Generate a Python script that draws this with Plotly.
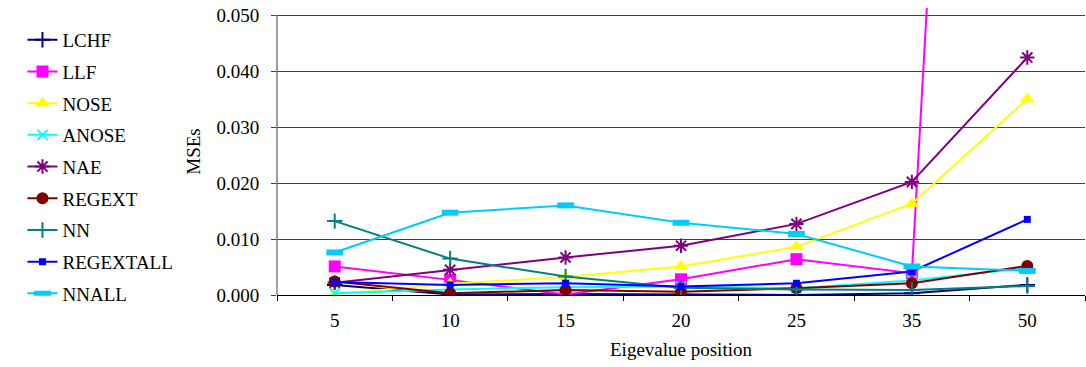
import plotly.graph_objects as go

categories = ["5", "10", "15", "20", "25", "35", "50"]

LCHF = [0.0018, 0.0001, 0.0002, 0.0001, 0.0000, 0.0003, 0.0018]
LLF = [0.0051, 0.0027, 0.0001, 0.0028, 0.0064, 0.0039, 0.37]
NOSE = [0.0002, 0.0020, 0.0032, 0.0051, 0.0086, 0.0163, 0.0350]
ANOSE = [0.0003, 0.0010, 0.0014, 0.0015, 0.0012, 0.0026, 0.0048]
NAE = [0.0022, 0.0045, 0.0067, 0.0088, 0.0127, 0.0202, 0.0424]
REGEXT = [0.0024, 0.0003, 0.0009, 0.0006, 0.0012, 0.0021, 0.0052]
NN = [0.0132, 0.0065, 0.0033, 0.0013, 0.0010, 0.0009, 0.0016]
REGEXTALL = [0.0023, 0.0018, 0.0021, 0.0015, 0.0021, 0.0042, 0.0135]
NNALL = [0.0076, 0.0147, 0.0160, 0.0129, 0.0109, 0.0051, 0.0043]

series = [
    ("LCHF", LCHF, "#000080", dict(symbol="cross-thin", size=11, line=dict(width=2, color="#000080"))),
    ("LLF", LLF, "#FF00FF", dict(symbol="square", size=12)),
    ("NOSE", NOSE, "#FFFF00", dict(symbol="triangle-up", size=13)),
    ("ANOSE", ANOSE, "#00FFFF", dict(symbol="x-thin", size=10, line=dict(width=2, color="#00FFFF"))),
    ("NAE", NAE, "#800080", dict(symbol="asterisk", size=12, line=dict(width=2, color="#800080"))),
    ("REGEXT", REGEXT, "#800000", dict(symbol="circle", size=12)),
    ("NN", NN, "#008080", dict(symbol="cross-thin", size=11, line=dict(width=2, color="#008080"))),
    ("REGEXTALL", REGEXTALL, "#0000FF", dict(symbol="square", size=7)),
    ("NNALL", NNALL, "#00CCFF", dict(symbol="line-ew", size=12, line=dict(width=6, color="#00CCFF"))),
]

fig = go.Figure()
for name, vals, color, marker in series:
    m = dict(color=color)
    m.update(marker)
    fig.add_trace(go.Scatter(
        x=categories, y=vals, name=name, mode="lines+markers",
        line=dict(color=color, width=2), marker=m, legendgroup=name,
        cliponaxis=True,
    ))

font = dict(family="Liberation Serif, Times New Roman, serif", size=19, color="black")

fig.update_layout(
    width=1086, height=367,
    margin=dict(l=277, r=1, t=8, b=72),
    plot_bgcolor="white", paper_bgcolor="white",
    font=font,
    showlegend=True,
    legend=dict(
        x=-0.315, xanchor="left", y=0.955, yanchor="top",
        font=font, tracegroupgap=4, itemwidth=30, maxheight=400,
        bgcolor="rgba(0,0,0,0)",
    ),
    xaxis=dict(
        type="category", showgrid=False, showline=True, linecolor="black", linewidth=1,
        ticks="outside", ticklen=5, tickcolor="black", tickson="boundaries",
        ticklabelstandoff=8,
        title=dict(text="Eigevalue position", font=font, standoff=12),
        range=[-0.5, 6.5],
    ),
    yaxis=dict(
        range=[0, 0.05125], tickvals=[0, 0.01, 0.02, 0.03, 0.04, 0.05],
        tickformat=".3f", showgrid=True, gridcolor="#404040", gridwidth=1,
        zeroline=False, showline=False,
        ticks="outside", ticklen=5, tickcolor="#404040",
        ticklabelstandoff=8,
        title=dict(text="MSEs", font=font, standoff=10),
    ),
)
fig.add_shape(type="line", xref="paper", yref="y", x0=0, x1=0, y0=0, y1=0.05,
              line=dict(color="#404040", width=1))

fig.write_html("out.html")
